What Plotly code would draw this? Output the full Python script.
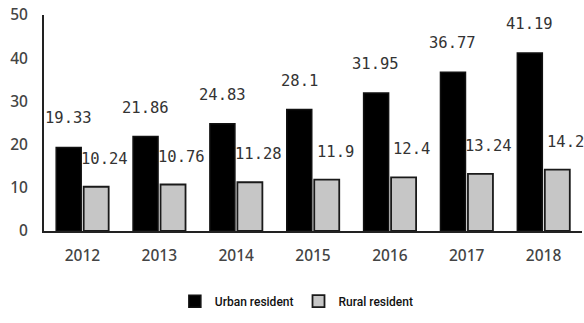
import plotly.graph_objects as go

years = ["2012", "2013", "2014", "2015", "2016", "2017", "2018"]
urban = [19.33, 21.86, 24.83, 28.1, 31.95, 36.77, 41.19]
rural = [10.24, 10.76, 11.28, 11.9, 12.4, 13.24, 14.2]
y_ticks = [0, 10, 20, 30, 40, 50]

fig = go.Figure()
fig.add_trace(go.Bar(
    x=years, y=urban, name="Urban resident",
    marker=dict(color="#000000", line=dict(color="#111111", width=1.5)),
))
fig.add_trace(go.Bar(
    x=years, y=rural, name="Rural resident",
    marker=dict(color="#c6c6c6", line=dict(color="#1a1a1a", width=1.8)),
))

# value labels sit above each bar; category axes place annotations by index
label_font = dict(family="DejaVu Sans Mono", size=15.5, color="#333333")
annotations = []
for i, v in enumerate(urban):
    annotations.append(dict(
        x=i, y=v, xref="x", yref="y", text=f"{v:g}", showarrow=False,
        xshift=-14, yshift=29, font=label_font,
    ))
for i, v in enumerate(rural):
    annotations.append(dict(
        x=i, y=v, xref="x", yref="y", text=f"{v:g}", showarrow=False,
        xshift=22, yshift=28, font=label_font,
    ))

tick_font = dict(family="Noto Sans", size=15.5, color="#444444", weight=500)

fig.update_layout(
    width=584, height=323,
    margin=dict(l=44, r=2, t=15, b=92),
    paper_bgcolor="white", plot_bgcolor="white",
    barmode="group", bargap=0.285, bargroupgap=0.09,
    annotations=annotations,
    showlegend=True,
    legend=dict(
        orientation="h", x=0.47, xanchor="center", y=-0.325, yanchor="middle",
        font=dict(family="Roboto", size=12, color="#111111", weight=500),
        itemwidth=30, tracegroupgap=0,
    ),
    xaxis=dict(
        type="category", range=[-0.5, len(years) - 0.5],
        showline=True, linecolor="#222222", linewidth=2,
        ticks="", tickfont=tick_font, showgrid=False,
        ticklabelstandoff=9,
    ),
    yaxis=dict(
        range=[0, 50], tickvals=y_ticks, showline=True, linecolor="#222222",
        linewidth=2, ticks="", showgrid=False, zeroline=False,
        tickfont=tick_font, ticklabelstandoff=11,
    ),
)

fig.write_html("out.html")
